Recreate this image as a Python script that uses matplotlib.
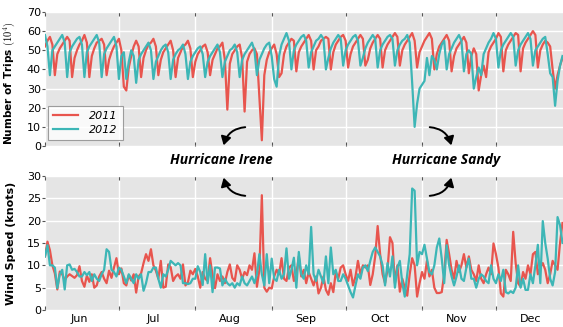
import numpy as np
import pandas as pd
import matplotlib
matplotlib.use('Agg')
import matplotlib.pyplot as plt
import matplotlib.dates as mdates

# daily values, Jun 1 -> Dec 28 (2012 aligned on month/day of 2011)
days = pd.date_range('2011-06-01', periods=211, freq='D')

# number of trips (10^4)
trips_2011 = [
    52, 55, 57, 53,
    37, 48, 51, 53, 55, 57, 55,
    36, 46, 50, 53, 55, 58, 54,
    36, 47, 51, 54, 55, 56, 53,
    37, 45, 49, 52, 54, 56, 50,
    31, 29, 41, 47, 52, 55, 52,
    36, 46, 50, 53, 54, 56, 52,
    37, 45, 49, 51, 53, 55, 50,
    36, 46, 49, 52, 53, 55, 51,
    36, 44, 48, 50, 52, 53, 49,
    37, 45, 48, 51, 52, 54, 45,
    19, 43, 48, 50, 52, 53, 46,
    18, 44, 48, 50, 51, 48, 25,
    3, 37, 45, 49, 51, 53, 48,
    36, 38, 48, 52, 54, 56, 55,
    39, 49, 52, 54, 56, 58, 55,
    40, 50, 52, 55, 56, 57, 56,
    40, 49, 53, 55, 57, 58, 55,
    41, 48, 52, 54, 56, 58, 56,
    42, 45, 51, 54, 56, 58, 56,
    41, 50, 53, 55, 57, 59, 57,
    42, 50, 53, 55, 57, 59, 55,
    41, 49, 52, 55, 57, 59, 56,
    40, 48, 52, 54, 56, 58, 55,
    39, 47, 51, 53, 55, 57, 54,
    38, 47, 51, 48, 29, 37, 42,
    36, 49, 52, 54, 56, 59, 57,
    39, 50, 53, 55, 57, 59, 58,
    39, 51, 54, 56, 58, 60, 58,
    41, 50, 53, 55, 54, 52, 40,
    30, 37, 42, 46,
]
trips_2012 = [
    58, 52,
    37, 50, 52, 54, 56, 58, 54,
    36, 49, 52, 54, 56, 57, 53,
    36, 49, 52, 54, 56, 58, 54,
    36, 48, 51, 53, 55, 57, 52,
    35, 47, 49, 35, 44, 50, 47,
    33, 45, 48, 50, 52, 54, 50,
    35, 44, 47, 50, 52, 53, 49,
    35, 45, 48, 50, 51, 53, 48,
    35, 44, 47, 49, 51, 52, 48,
    36, 44, 47, 49, 51, 53, 49,
    36, 44, 47, 50, 51, 53, 49,
    36, 45, 48, 50, 52, 54, 50,
    37, 45, 48, 51, 53, 54, 47,
    35, 31, 47, 53, 56, 59, 55,
    40, 50, 53, 55, 57, 58, 55,
    41, 49, 52, 55, 56, 58, 56,
    40, 46, 51, 54, 56, 58, 56,
    42, 50, 53, 55, 57, 58, 55,
    42, 46, 51, 54, 56, 58, 56,
    41, 50, 53, 55, 57, 58, 56,
    42, 50, 53, 55, 56, 58, 54,
    33, 10, 22, 30, 32, 34, 46,
    37, 47, 45, 40, 48, 53, 55,
    40, 48, 51, 54, 56, 58, 55,
    39, 48, 50, 48, 30, 36, 41,
    37, 48, 51, 54, 56, 59, 56,
    41, 50, 53, 55, 57, 59, 57,
    42, 50, 53, 55, 57, 59, 56,
    42, 50, 52, 54, 56, 57, 48,
    38, 36, 21, 34, 42, 47,
]

# wind speed (knots)
wind_2011 = [
    12.0, 15.3, 13.4, 10.0, 8.2, 4.6, 8.6, 8.0, 6.7, 7.5,
    8.0, 7.6, 7.2, 7.8, 9.8, 6.5, 5.2, 7.7, 6.3, 8.0,
    5.0, 5.5, 7.5, 8.5, 7.0, 6.0, 8.8, 7.2, 9.5, 11.6,
    8.0, 9.3, 6.0, 5.5, 7.8, 6.6, 8.0, 3.9, 7.5, 8.2,
    10.5, 12.5, 11.0, 13.6, 10.0, 8.8, 7.0, 11.0, 5.0, 5.2,
    10.2, 9.6, 6.5, 7.5, 8.0, 7.0, 10.2, 5.5, 6.2, 8.8,
    8.0, 9.2, 7.5, 5.0, 8.5, 7.0, 6.5, 11.6, 7.8, 4.9,
    8.0, 6.5, 7.5, 6.0, 8.5, 10.2, 7.2, 6.5, 10.0, 9.0,
    7.0, 8.5, 7.8, 10.0, 9.0, 12.7, 5.2, 9.0, 25.7, 5.0,
    4.1, 5.0, 4.8, 7.5, 9.0, 8.0, 11.6, 7.0, 6.5, 9.5,
    10.0, 6.5, 8.0, 12.0, 7.5, 9.0, 6.0, 8.5, 7.0, 5.5,
    7.5, 3.7, 5.0, 7.5, 4.5, 3.4, 6.0, 4.0, 8.5, 7.0,
    9.5, 10.0, 8.0, 6.5, 9.0, 5.5, 7.5, 11.0, 8.0, 10.0,
    9.5, 10.0, 5.6, 8.0, 12.0, 18.8, 12.5, 8.0, 6.0, 9.0,
    16.3, 15.0, 6.0, 10.0, 4.1, 7.0, 5.0, 3.2, 8.0, 11.6,
    10.0, 3.0, 6.0, 8.5, 7.0, 11.0, 7.5, 9.0, 5.0, 3.8,
    3.8, 4.0, 8.0, 15.7, 12.5, 9.0, 7.0, 11.0, 8.5, 10.0,
    12.5, 9.5, 12.0, 9.0, 8.0, 6.5, 10.0, 7.0, 6.0, 8.0,
    9.5, 8.0, 14.9, 12.5, 9.5, 3.7, 3.0, 9.0, 8.0, 6.5,
    17.5, 10.5, 6.0, 5.2, 8.5, 7.0, 10.0, 8.0, 12.5, 13.0,
    8.0, 9.5, 10.5, 9.0, 6.0, 8.0, 11.0, 10.0, 9.0, 15.0,
    19.5,
]
wind_2012 = [
    12.0, 14.5, 10.0, 10.0, 9.5, 4.9, 8.0, 9.0, 4.6, 10.0,
    10.2, 9.0, 9.2, 8.5, 7.5, 7.5, 8.5, 7.8, 8.5, 6.5,
    8.0, 7.0, 6.5, 8.0, 9.0, 13.6, 13.0, 9.0, 8.5, 7.5,
    9.5, 9.0, 7.5, 6.0, 8.0, 7.0, 6.0, 8.0, 7.0, 8.0,
    4.3, 6.0, 8.5, 8.5, 9.5, 9.5, 7.0, 5.0, 8.0, 7.5,
    9.0, 11.0, 10.5, 10.0, 10.5, 10.0, 6.0, 6.0, 5.8, 6.0,
    7.0, 7.0, 9.8, 8.5, 5.6, 12.5, 6.0, 10.0, 4.0, 9.5,
    9.5, 9.3, 5.5, 7.0, 6.0, 5.5, 6.0, 5.0, 6.0, 5.5,
    7.5, 6.0, 5.5, 6.5, 7.5, 6.0, 8.0, 12.5, 8.0, 5.5,
    12.5, 6.0, 11.5, 7.0, 6.5, 9.0, 7.0, 8.0, 13.8, 7.0,
    9.0, 11.7, 5.0, 13.0, 8.0, 7.0, 10.0, 8.0, 18.6, 8.0,
    6.5, 9.0, 7.5, 6.0, 12.0, 6.0, 14.0, 8.0, 9.0, 6.5,
    6.5, 8.0, 7.0, 5.5, 4.0, 2.8, 5.5, 8.0, 7.0, 9.5,
    10.0, 8.7, 11.0, 13.0, 14.0, 13.0, 12.0, 10.0, 5.5, 10.5,
    7.5, 12.0, 5.0, 9.5, 11.0, 6.0, 3.0, 8.0, 12.5, 27.2,
    26.7, 10.0, 13.0, 12.5, 14.6, 11.5, 8.5, 8.0, 10.0, 14.0,
    16.0, 11.5, 6.0, 14.5, 10.0, 7.5, 5.5, 7.5, 10.0, 7.0,
    6.5, 9.5, 11.5, 7.0, 7.0, 5.0, 7.0, 8.0, 7.5, 6.5,
    6.0, 10.0, 7.0, 6.0, 8.0, 6.5, 9.0, 4.0, 3.7, 4.2,
    3.8, 5.0, 10.0, 5.0, 7.0, 4.5, 4.5, 8.0, 6.0, 10.0,
    14.6, 6.0, 19.9, 15.0, 11.5, 7.0, 5.5, 8.5, 20.8, 19.0,
    15.0,
]

years = ['2011', '2012']
colors = ['#E8554E', '#3DB6B6']

plt.rcParams['mathtext.fontset'] = 'cm'

fig = plt.figure(figsize=(5.63, 3.27), dpi=100)
ax1 = fig.add_axes([0.0799, 0.5535, 0.9201, 0.4098])
ax2 = fig.add_axes([0.0799, 0.0520, 0.9201, 0.4098])


def style_axis(ax, ymax, ystep):
    ax.set_facecolor('#E5E5E5')
    for s in ax.spines.values():
        s.set_visible(False)
    ax.set_xlim(days[0], days[-1] + pd.Timedelta(hours=5))
    ax.set_ylim(0, ymax)
    ax.set_yticks(np.arange(0, ymax + 1, ystep))
    ax.xaxis.set_major_locator(mdates.MonthLocator())
    ax.xaxis.set_major_formatter(plt.NullFormatter())
    ax.xaxis.set_minor_locator(mdates.MonthLocator(bymonthday=15))
    ax.xaxis.set_minor_formatter(mdates.DateFormatter('%b'))
    ax.grid(True, which='major', color='white', linewidth=1.0)
    ax.set_axisbelow(True)
    ax.tick_params(axis='x', which='major', direction='in', length=3,
                   color='#555555', top=True, bottom=True)
    ax.tick_params(axis='x', which='minor', length=0, labelsize=8, pad=3)
    ax.tick_params(axis='y', direction='out', length=2, color='#555555',
                   labelsize=8, pad=1)


style_axis(ax1, 70, 10)
style_axis(ax2, 30, 5)
ax1.tick_params(axis='x', which='minor', labelbottom=False)

for vals, c, lab in zip([trips_2011, trips_2012], colors, years):
    ax1.plot(days, vals, color=c, lw=1.6, label=lab)
for vals, c in zip([wind_2011, wind_2012], colors):
    ax2.plot(days, vals, color=c, lw=1.6)

ax1.set_ylabel('Number of Trips ' + r'$(10^4)$', fontsize=7.6, fontweight='bold')
ax2.set_ylabel('Wind Speed (knots)', fontsize=8, fontweight='bold')
ax1.yaxis.set_label_coords(-0.054, 0.47)
ax2.yaxis.set_label_coords(-0.056, 0.5)

leg = ax1.legend(loc='lower left', bbox_to_anchor=(0.005, 0.045), fancybox=False,
                 prop={'size': 8, 'style': 'italic'}, handlelength=2.3,
                 borderpad=0.45, labelspacing=0.35, handletextpad=1.0,
                 borderaxespad=0)
leg.get_frame().set_edgecolor('#888888')
leg.get_frame().set_linewidth(0.8)

# hurricane labels and curved arrows between the panels
fig.text(0.394, 0.511, 'Hurricane Irene', ha='center', va='center',
         family='Open Sans', weight='bold', style='italic', fontsize=10)
fig.text(0.792, 0.511, 'Hurricane Sandy', ha='center', va='center',
         family='Open Sans', weight='bold', style='italic', fontsize=10)

arrows = [
    ((0.4405, 0.6116), (0.3961, 0.5474), 0.4),
    ((0.4405, 0.4006), (0.3961, 0.4648), -0.4),
    ((0.7584, 0.6116), (0.8028, 0.5474), -0.4),
    ((0.7584, 0.4006), (0.8028, 0.4648), 0.4),
]
for start, end, rad in arrows:
    fig.add_artist(matplotlib.patches.FancyArrowPatch(
        start, end, transform=fig.transFigure,
        connectionstyle=f'arc3,rad={rad}',
        arrowstyle='-|>,head_length=5,head_width=3',
        color='black', lw=1.4, mutation_scale=1))

fig.savefig('out.png', dpi=100)
